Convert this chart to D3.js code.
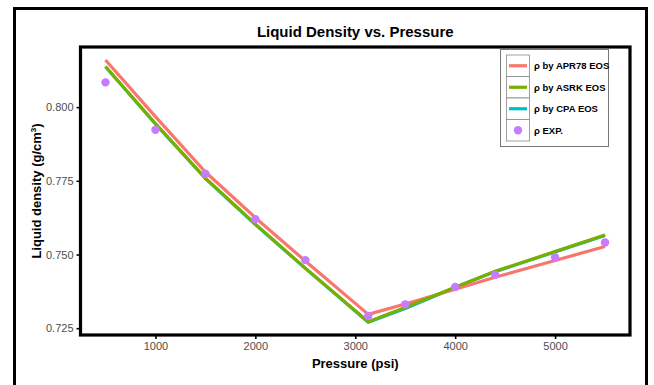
<!DOCTYPE html>
<html>
<head>
<meta charset="utf-8">
<script src="https://cdn.jsdelivr.net/npm/d3@7"></script>
<style>
  html, body { margin: 0; padding: 0; background: #fff; }
  svg { display: block; font-family: "Liberation Sans", Arial, sans-serif; }
</style>
</head>
<body>
<svg id="chart" width="654" height="385"></svg>
<script>
// ---- data ----
const pressure = [500, 1000, 1500, 2000, 2500, 3130, 3500, 4000, 4400, 5000, 5500];
const apr78 = [0.8160, 0.7968, 0.7780, 0.7625, 0.7478, 0.7297, 0.7332, 0.7382, 0.7423, 0.7480, 0.7527];
const asrk  = [0.8138, 0.7944, 0.7759, 0.7603, 0.7454, 0.7272, 0.7320, 0.7389, 0.7443, 0.7510, 0.7566];
const cpa   = [0.8137, 0.7943, 0.7758, 0.7602, 0.7453, 0.7270, 0.7317, 0.7388, 0.7442, 0.7509, 0.7565];
const expP  = [500, 1000, 1500, 2000, 2500, 3130, 3500, 4000, 4400, 5000, 5500];
const expV  = [0.8084, 0.7923, 0.7774, 0.7620, 0.7481, 0.7292, 0.7331, 0.7390, 0.7431, 0.7491, 0.7541];
const xTicks = [1000, 2000, 3000, 4000, 5000];
const yTicks = [0.725, 0.750, 0.775, 0.800];
const legendLabels = ["ρ by APR78 EOS", "ρ by ASRK EOS", "ρ by CPA EOS", "ρ EXP."];
const colors = { apr: "#F8766D", asrk: "#7CAE00", cpa: "#00BFC4", exp: "#C77CFF" };

const svg = d3.select("#chart");
const P = { left: 80.5, right: 630, top: 47, bottom: 335 };

const x = d3.scaleLinear().domain([250, 5750]).range([P.left, P.right]);
const y = d3.scaleLinear().domain([0.7227, 0.8204]).range([P.bottom, P.top]);

// outer frame
svg.append("rect").attr("x", 14.5).attr("y", 8.5).attr("width", 632).attr("height", 400)
  .attr("fill", "none").attr("stroke", "#000").attr("stroke-width", 3);

// title
svg.append("text").attr("x", (P.left + P.right) / 2).attr("y", 36.5)
  .attr("text-anchor", "middle").attr("font-weight", "bold").attr("font-size", 15)
  .attr("fill", "#000").text("Liquid Density vs. Pressure");

// axes
const xAxis = svg.append("g").attr("transform", `translate(0,${P.bottom})`)
  .call(d3.axisBottom(x).tickValues(xTicks).tickFormat(d3.format("d")).tickSize(4).tickPadding(3));
const yAxis = svg.append("g").attr("transform", `translate(${P.left},0)`)
  .call(d3.axisLeft(y).tickValues(yTicks).tickFormat(d3.format(".3f")).tickSize(4).tickPadding(3));
[xAxis, yAxis].forEach(a => {
  a.select(".domain").remove();
  a.selectAll(".tick line").attr("stroke", "#000").attr("stroke-width", 1.6);
  a.selectAll(".tick text").attr("fill", "#4D4D4D").attr("font-size", 11)
    .attr("font-family", "Liberation Sans, Arial, sans-serif");
});

// clip
svg.append("clipPath").attr("id", "clip").append("rect")
  .attr("x", P.left).attr("y", P.top).attr("width", P.right - P.left).attr("height", P.bottom - P.top);

const line = d3.line().x(d => x(d[0])).y(d => y(d[1]));
const g = svg.append("g").attr("clip-path", "url(#clip)");
const series = [
  { v: cpa, c: colors.cpa },
  { v: apr78, c: colors.apr },
  { v: asrk, c: colors.asrk }
];
series.forEach(s => {
  g.append("path").datum(pressure.map((p, i) => [p, s.v[i]]))
    .attr("d", line).attr("fill", "none").attr("stroke", s.c)
    .attr("stroke-width", 3.2).attr("stroke-linejoin", "round");
});
g.selectAll("circle.exp").data(expP.map((p, i) => [p, expV[i]])).enter()
  .append("circle").attr("class", "exp")
  .attr("cx", d => x(d[0])).attr("cy", d => y(d[1])).attr("r", 4.2)
  .attr("fill", colors.exp);

// panel border
svg.append("rect").attr("x", P.left).attr("y", P.top)
  .attr("width", P.right - P.left).attr("height", P.bottom - P.top)
  .attr("fill", "none").attr("stroke", "#000").attr("stroke-width", 3.2);

// axis titles
svg.append("text").attr("x", (P.left + P.right) / 2).attr("y", 368)
  .attr("text-anchor", "middle").attr("font-weight", "bold").attr("font-size", 13)
  .attr("fill", "#000").text("Pressure (psi)");
const yt = svg.append("text").attr("transform", `translate(41,${(P.top + P.bottom) / 2}) rotate(-90)`)
  .attr("text-anchor", "middle").attr("font-weight", "bold").attr("font-size", 13).attr("fill", "#000");
yt.append("tspan").text("Liquid density (g/cm");
yt.append("tspan").attr("font-size", 8).attr("dy", -5).text("3");
yt.append("tspan").attr("dy", 5).text(")");

// legend
const L = { x: 500.5, y: 49.5, w: 108, h: 97 };
const leg = svg.append("g");
leg.append("rect").attr("x", L.x).attr("y", L.y).attr("width", L.w).attr("height", L.h)
  .attr("fill", "#fff").attr("stroke", "#777").attr("stroke-width", 1);
const keyX = 506.5, keyW = 23, keyTop = 55, keyH = 21.5;
const legendColors = [colors.apr, colors.asrk, colors.cpa, colors.exp];
legendLabels.forEach((lab, i) => {
  const ky = keyTop + i * keyH;
  leg.append("rect").attr("x", keyX).attr("y", ky).attr("width", keyW).attr("height", keyH)
    .attr("fill", "#fff").attr("stroke", "#888").attr("stroke-width", 0.8);
  if (i < 3) {
    leg.append("line").attr("x1", keyX + 2.5).attr("x2", keyX + keyW - 2.5)
      .attr("y1", ky + keyH / 2).attr("y2", ky + keyH / 2)
      .attr("stroke", legendColors[i]).attr("stroke-width", 3.2);
  } else {
    leg.append("circle").attr("cx", keyX + keyW / 2).attr("cy", ky + keyH / 2).attr("r", 4.2)
      .attr("fill", legendColors[i]);
  }
  leg.append("text").attr("x", 534).attr("y", ky + keyH / 2 + 3.5)
    .attr("font-weight", "bold").attr("font-size", 9.5).attr("fill", "#000").text(lab);
});
</script>
</body>
</html>
